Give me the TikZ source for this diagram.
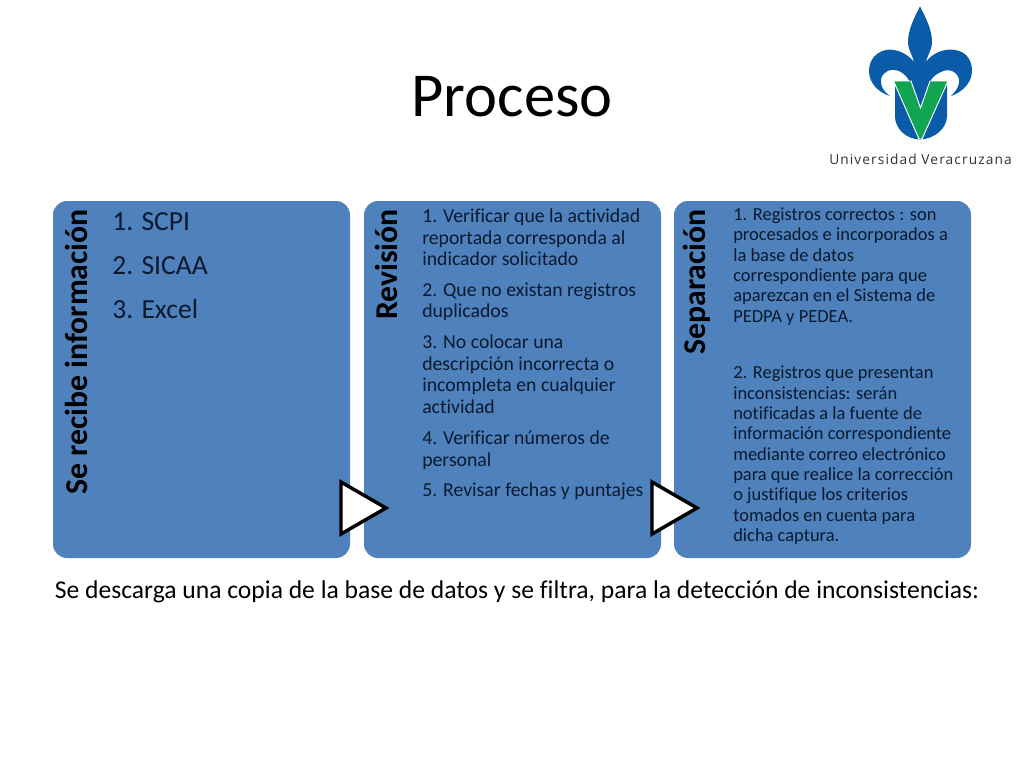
\documentclass[tikz,border=0pt]{standalone}
\usepackage{fontspec}
\setmainfont[Ligatures=CommonOff]{Carlito}
\newfontfamily\logofont[LetterSpace=8]{Open Sans}
\usepackage{xcolor}
\usetikzlibrary{positioning}
\definecolor{boxblue}{HTML}{4F81BD}
\definecolor{inkblue}{HTML}{0B1A2E}
\definecolor{uvblue}{HTML}{0A5BA8}
\definecolor{uvgreen}{HTML}{12A551}

\begin{document}
\begin{tikzpicture}
  [
    x=0.75pt, y=-0.75pt,
    Panel/.style={rectangle, draw=none, fill=boxblue, rounded corners=10.5pt, minimum width=222.75pt, minimum height=267.75pt, inner sep=0pt},
    Head/.style={rotate=90, anchor=east, inner sep=0pt, text=black, font=\fontsize{23.8}{26}\selectfont\bfseries},
    Big/.style={anchor=base west, inner sep=0pt, text=inkblue, font=\fontsize{20.7}{33}\selectfont, align=left},
    Mid/.style={anchor=north west, inner sep=0pt, text=inkblue, font=\fontsize{14.8}{16.2}\selectfont, align=left},
    Small/.style={anchor=north west, inner sep=0pt, text=inkblue, font=\fontsize{13.85}{15.25}\selectfont, align=left},
    Play/.style={draw=black, fill=white, line width=2.6pt, miter limit=10}
  ]
  \useasboundingbox (0,0) rectangle (1024,768);
  \fill[white] (0,0) rectangle (1024,768);

  % Title
  \node[inner sep=0pt, font=\fontsize{46.9}{50}\selectfont, text=black] (title) at(512, 97) {Proceso};

  % Panels
  \node[Panel] (p1) at(201.5, 379.5) {};
  \node[Panel] (p2) at(512.5, 379.5) {};
  \node[Panel] (p3) at(822.5, 379.5) {};

  % Panel heads
  \node[Head] (h1) at(76, 209) {Se recibe información};
  \node[Head] (h2) at(386, 209) {Revisión};
  \node[Head] (h3) at(696.5, 209) {Separación};

  % Panel one
  \node[Big] (t1) at(112, 318) {1. SCPI\\2. SICAA\\3. Excel};

  % Panel two
  \node[Mid] (r1) at(422, 208.5) {1. Verificar que la actividad\\reportada corresponda al\\indicador solicitado};
  \node[Mid] (r2) at(422, 282.5) {2. Que no existan registros\\duplicados};
  \node[Mid] (r3) at(422, 334.5) {3. No colocar una\\descripción incorrecta o\\incompleta en cualquier\\actividad};
  \node[Mid] (r4) at(422, 430.5) {4. Verificar números de\\personal};
  \node[Mid] (r5) at(422, 482.5) {5. Revisar fechas y puntajes};

  % Panel three
  \node[Small] (s1) at(733, 207.5) {1. Registros correctos : son\\procesados e incorporados a\\la base de datos\\correspondiente para que\\aparezcan en el Sistema de\\PEDPA y PEDEA.};
  \node[Small] (s2) at(733, 366) {2. Registros que presentan\\inconsistencias: serán\\notificadas a la fuente de\\información correspondiente\\mediante correo electrónico\\para que realice la corrección\\o justifique los criterios\\tomados en cuenta para\\dicha captura.};

  % Arrows
  \draw[Play] (341, 482) -- (386, 508) -- (341, 534) -- cycle;
  \draw[Play] (652, 482) -- (697, 508) -- (652, 534) -- cycle;

  % Caption
  \node[inner sep=0pt, font=\fontsize{19.2}{22}\selectfont, text=black] (note) at(517, 592) {Se descarga una copia de la base de datos y se filtra, para la detección de inconsistencias:};

  % Logo
  \fill[uvblue] (920, 6.5) .. controls (926, 18) and (932, 30) .. (932, 42)
    .. controls (932, 50) and (927, 56) .. (926, 62)
    .. controls (932, 53) and (945, 48) .. (955, 50)
    .. controls (968, 52) and (972, 62) .. (972, 71)
    .. controls (972, 82) and (963, 92) .. (951, 96)
    .. controls (957, 90) and (960, 85) .. (959, 79)
    .. controls (957, 71) and (948, 68) .. (941, 72)
    .. controls (934, 75) and (931, 79) .. (931, 81)
    -- (947, 81) -- (947, 116)
    .. controls (947, 128) and (935, 139) .. (920, 139.5)
    .. controls (905, 139) and (895, 128) .. (895, 116)
    -- (895, 81) -- (909, 81)
    .. controls (908, 78) and (905, 74) .. (899, 71)
    .. controls (891, 68) and (883, 71) .. (881, 79)
    .. controls (880, 85) and (883, 91) .. (890, 96)
    .. controls (877, 92) and (869, 82) .. (869, 71)
    .. controls (869, 60) and (876, 52) .. (886, 50)
    .. controls (896, 48) and (908, 54) .. (914, 62)
    .. controls (913, 56) and (908, 50) .. (908, 42)
    .. controls (908, 30) and (914, 18) .. (920, 6.5) -- cycle;
  \fill[uvgreen, draw=white, line width=0.7pt] (893.5, 81) -- (911, 81) -- (920.5, 108) -- (930, 81) -- (948, 81) -- (922, 139) -- (919, 139) -- cycle;
  \node[inner sep=0pt, text=black!80, font=\logofont\fontsize{10.3}{12}\selectfont] (logotext) at(920.5, 159) {Universidad Veracruzana};
\end{tikzpicture}
\end{document}
